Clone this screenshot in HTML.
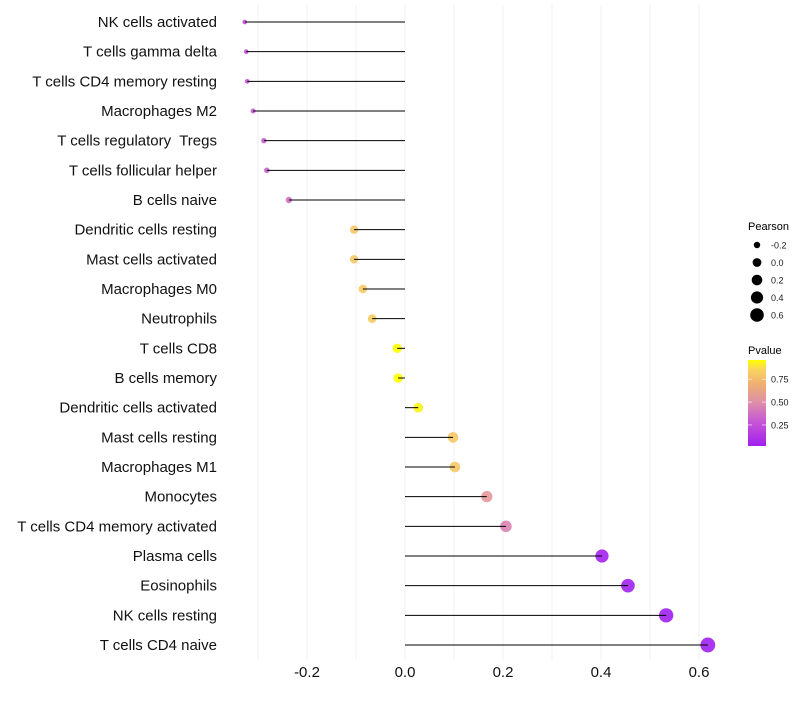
<!DOCTYPE html>
<html><head><meta charset="utf-8"><style>
body{margin:0;background:#fff;font-family:"Liberation Sans",sans-serif}
svg text{font-family:"Liberation Sans",sans-serif;white-space:pre}
</style></head><body>
<svg id="c" width="800" height="700"></svg>
<script>
const categories=["NK cells activated","T cells gamma delta","T cells CD4 memory resting","Macrophages M2","T cells regulatory  Tregs","T cells follicular helper","B cells naive","Dendritic cells resting","Mast cells activated","Macrophages M0","Neutrophils","T cells CD8","B cells memory","Dendritic cells activated","Mast cells resting","Macrophages M1","Monocytes","T cells CD4 memory activated","Plasma cells","Eosinophils","NK cells resting","T cells CD4 naive"];
const pearson=[-0.327,-0.324,-0.322,-0.31,-0.288,-0.282,-0.237,-0.104,-0.104,-0.086,-0.067,-0.016,-0.014,0.027,0.098,0.102,0.167,0.206,0.402,0.455,0.533,0.618];
const pvalue=[0.26,0.26,0.27,0.29,0.31,0.33,0.38,0.8,0.8,0.81,0.82,0.97,0.97,0.93,0.8,0.8,0.55,0.45,0.04,0.03,0.02,0.01];
const xTicks=[-0.2,0,0.2,0.4,0.6];
const xTickLabels=["-0.2","0.0","0.2","0.4","0.6"];
const sizeVals=[-0.2,0,0.2,0.4,0.6];
const sizeLabels=["-0.2","0.0","0.2","0.4","0.6"];
const cbTicks=[0.25,0.5,0.75];
const cbLabels=["0.25","0.50","0.75"];
const NS="http://www.w3.org/2000/svg",svg=document.getElementById('c');
function mk(t,a,p){const e=document.createElementNS(NS,t);for(const k in a)e.setAttribute(k,a[k]);(p||svg).appendChild(e);return e;}
const x=v=>405+v*490;
const y=i=>22+i*(623/21);
const rad=v=>Math.sqrt(Math.max(1,22.7+52.8*v));
const stops=[[0.02,[160,32,240]],[0.3,[200,90,210]],[0.5,[222,144,168]],[0.7,[240,176,112]],[0.85,[248,210,96]],[0.96,[255,255,0]]];
function col(p){if(p<=stops[0][0])return 'rgb(160,32,240)';for(let k=1;k<stops.length;k++){if(p<=stops[k][0]){const [p0,c0]=stops[k-1],[p1,c1]=stops[k];const t=(p-p0)/(p1-p0);return `rgb(${c0.map((c,i)=>Math.round(c+(c1[i]-c)*t)).join(',')})`;}}return 'rgb(255,255,0)';}
for(let v=-0.3;v<=0.61;v+=0.1){const g=mk('line',{x1:x(v),x2:x(v),y1:5,y2:660,stroke:'#f0f0f0','stroke-width':1});
}
categories.forEach((c,i)=>{
 const t=mk('text',{x:217,y:y(i)+5,'text-anchor':'end','font-size':15,fill:'#111'});t.textContent=c;
 
 const d=mk('circle',{cx:x(pearson[i]),cy:y(i),r:rad(pearson[i]),fill:col(pvalue[i]),'fill-opacity':0.9});
 
 const l=mk('line',{x1:x(0),x2:x(pearson[i]),y1:y(i),y2:y(i),stroke:'#000','stroke-width':1});
 
});
xTicks.forEach((v,i)=>{const t=mk('text',{x:x(v),y:677,'text-anchor':'middle','font-size':15,fill:'#111'});t.textContent=xTickLabels[i];
 });
let t=mk('text',{x:748,y:230,'font-size':11,fill:'#000'});t.textContent='Pearson';

sizeVals.forEach((v,i)=>{const cy=245+i*17.5;
 const d=mk('circle',{cx:757,cy:cy,r:rad(v)*0.92,fill:'#000'});
 const l=mk('text',{x:771,y:cy+3.5,'font-size':9,fill:'#1a1a1a'});l.textContent=sizeLabels[i];
 });
t=mk('text',{x:748,y:354,'font-size':11,fill:'#000'});t.textContent='Pvalue';

const defs=mk('defs',{});const gr=mk('linearGradient',{id:'g',x1:0,y1:1,x2:0,y2:0},defs);
stops.forEach(s=>mk('stop',{offset:(s[0]-0.02)/0.94,'stop-color':`rgb(${s[1].join(',')})`},gr));
const cb=mk('rect',{x:748,y:360,width:18,height:86,fill:'url(#g)'});
const cy=v=>446-(v-0.02)/0.94*86;
cbTicks.forEach((v,i)=>{mk('line',{x1:748,x2:752,y1:cy(v),y2:cy(v),stroke:'#fff','stroke-width':0.6});mk('line',{x1:762,x2:766,y1:cy(v),y2:cy(v),stroke:'#fff','stroke-width':0.6});
 const l=mk('text',{x:771,y:cy(v)+3.5,'font-size':9,fill:'#1a1a1a'});l.textContent=cbLabels[i];
 });
</script></body></html>
